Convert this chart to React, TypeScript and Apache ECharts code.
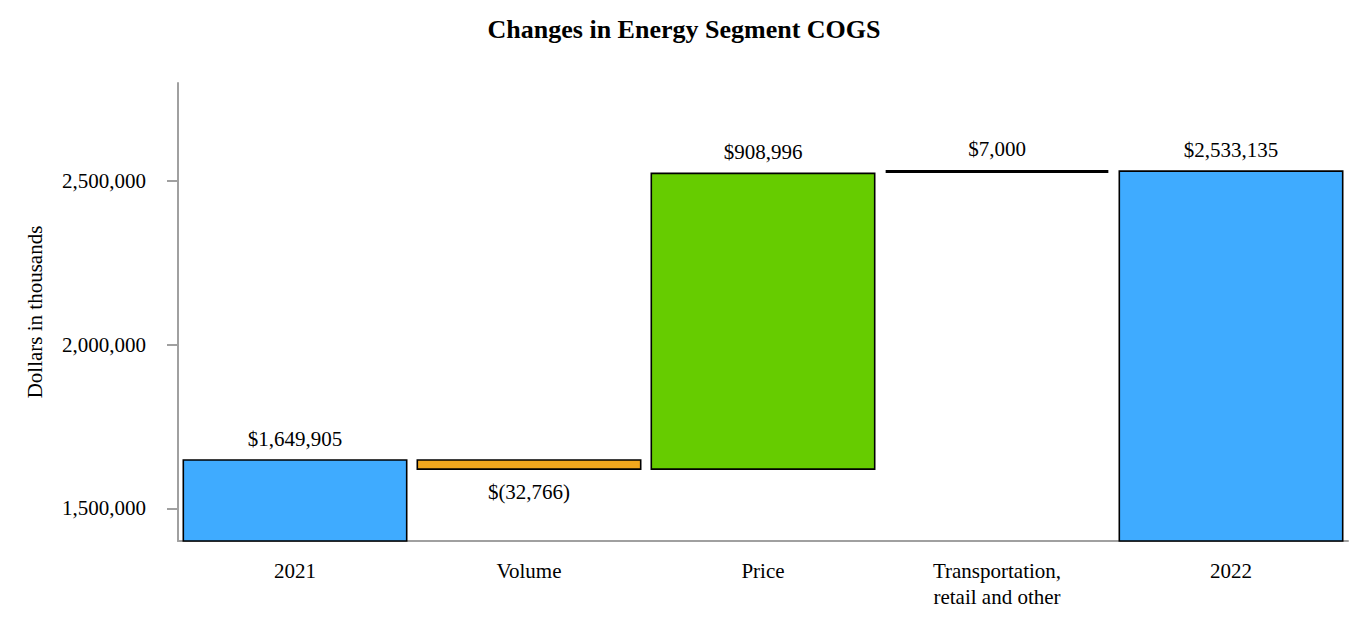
import React, { useEffect, useRef } from "react";
import * as echarts from "echarts";

const categories = ["2021", "Volume", "Price", "Transportation,\nretail and other", "2022"];
const amounts = [1649905, -32766, 908996, 7000, 2533135];
const isTotal = [true, false, false, false, true];
const barColors = ["#3FABFF", "#F2A81D", "#66CC00", "#000000", "#3FABFF"];
const yTickValues = [1500000, 2000000, 2500000];

const FONT = "'Liberation Serif', 'Times New Roman', serif";

function fmt(n: number): string {
  const s = Math.abs(n).toLocaleString("en-US");
  return n < 0 ? `$(${s})` : `$${s}`;
}

export default function App() {
  const ref = useRef<HTMLDivElement>(null);
  useEffect(() => {
    document.body.style.margin = "0";
    if (!ref.current) return;
    const chart = echarts.init(ref.current, undefined, { renderer: "svg" });

    const bases: number[] = [];
    const heights: number[] = [];
    let running = 0;
    amounts.forEach((a, i) => {
      if (isTotal[i]) {
        bases.push(0);
        heights.push(a);
        running = a;
      } else if (a >= 0) {
        bases.push(running);
        heights.push(a);
        running += a;
      } else {
        bases.push(running + a);
        heights.push(-a);
        running += a;
      }
    });

    chart.setOption({
      animation: false,
      title: {
        text: "Changes in Energy Segment COGS",
        left: "center",
        top: 16,
        padding: 0,
        textStyle: { fontFamily: FONT, fontWeight: "bold", fontSize: 26, color: "#000" },
      },
      grid: { left: 178, right: 20, top: 83, bottom: 85 },
      xAxis: {
        type: "category",
        data: categories,
        axisLine: { lineStyle: { color: "#A0A0A0", width: 2 } },
        axisTick: { alignWithLabel: true, length: 10, lineStyle: { color: "#A0A0A0", width: 2 } },
        axisLabel: { fontFamily: FONT, fontSize: 21, color: "#000", margin: 17, lineHeight: 26 },
      },
      yAxis: {
        type: "value",
        min: 1400000,
        max: 2800000,
        interval: 100000,
        name: "Dollars in thousands",
        nameLocation: "middle",
        nameGap: 133,
        nameTextStyle: { fontFamily: FONT, fontSize: 21, color: "#000" },
        splitLine: { show: false },
        axisLine: { show: true, lineStyle: { color: "#A0A0A0", width: 2 } },
        axisTick: { show: true, length: 11, customValues: yTickValues, lineStyle: { color: "#A0A0A0", width: 2 } },
        axisLabel: {
          customValues: yTickValues,
          fontFamily: FONT,
          fontSize: 21,
          color: "#000",
          margin: 32,
          formatter: (v: number) => v.toLocaleString("en-US"),
        },
      },
      series: [
        {
          type: "bar",
          stack: "w",
          silent: true,
          barWidth: 225,
          itemStyle: { color: "transparent", borderWidth: 0 },
          data: bases,
        },
        {
          type: "bar",
          stack: "w",
          barWidth: 225,
          data: heights.map((h, i) => ({
            value: h,
            itemStyle: {
              color: barColors[i],
              borderColor: "#000",
              borderWidth: isTotal[i] || h > 20000 ? 1.6 : 3,
            },
            label: {
              show: true,
              position: amounts[i] < 0 ? "bottom" : "top",
              distance: amounts[i] < 0 ? 12 : 10,
              formatter: () => fmt(amounts[i]),
              fontFamily: FONT,
              fontSize: 21,
              color: "#000",
            },
          })),
        },
      ],
    });
    return () => chart.dispose();
  }, []);
  return <div ref={ref} style={{ width: 1368, height: 626 }} />;
}
